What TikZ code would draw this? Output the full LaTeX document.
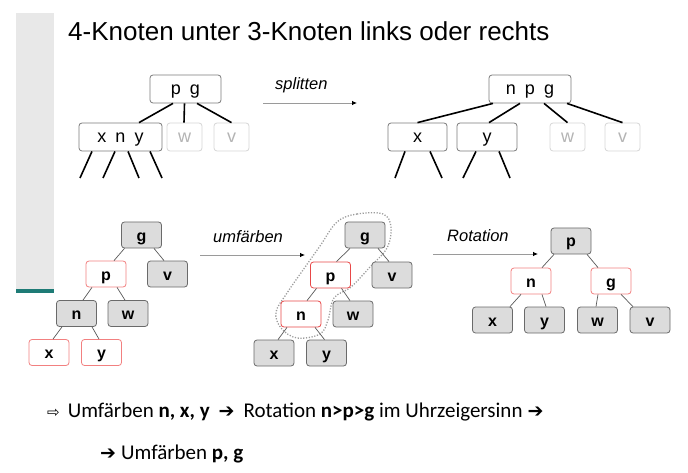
\documentclass[tikz,border=0pt]{standalone}
\usepackage{fontspec}
\setmainfont{Liberation Sans}
\newfontfamily\calib{Carlito}
\newfontfamily\symf{DejaVu Sans}
\usetikzlibrary{arrows.meta,calc}
\definecolor{barbg}{HTML}{E8E8E8}
\definecolor{tealbar}{HTML}{1E7B76}
\definecolor{nodegrey}{HTML}{DCDCDC}
\definecolor{nodeedge}{HTML}{6A6A6A}
\definecolor{softred}{HTML}{F28080}
\definecolor{brightred}{HTML}{E84848}
\definecolor{lightedge}{HTML}{D6D6D6}
\definecolor{lighttext}{HTML}{B4B4B4}
\definecolor{arrowgrey}{HTML}{9A9A9A}
\definecolor{loopgrey}{HTML}{9C9C9C}
\definecolor{boxedge}{HTML}{7A7A7A}
\begin{document}
\begin{tikzpicture}[x=1pt,y=-1pt,
 btree/.style={draw=boxedge, rounded corners=3pt, line width=0.8pt, fill=white, inner sep=0pt, minimum height=28pt, text height=14pt, text depth=3.5pt, font=\fontsize{18}{20}\selectfont},
 btreelight/.style={btree, draw=lightedge, text=lighttext},
 bedge/.style={line width=1.6pt, black},
 rb/.style={rounded corners=3pt, line width=0.8pt, inner sep=0pt, minimum width=40pt, minimum height=26pt, text height=15pt, text depth=3pt, font=\fontsize{16}{18}\selectfont\bfseries},
 blk/.style={rb, fill=nodegrey, draw=nodeedge},
 rednode/.style={rb, fill=white, draw=softred},
 rednodeb/.style={rb, fill=white, draw=brightred},
 redge/.style={line width=0.7pt, draw=black!65},
 steparrow/.style={draw=arrowgrey, line width=0.8pt, -{Latex[length=5pt,width=4.5pt,color=black]}},
 steplabel/.style={anchor=base west, inner sep=0pt, font=\fontsize{16.5}{18}\selectfont\itshape},
 bottomtext/.style={anchor=base west, inner sep=0pt, font=\calib\fontsize{21}{23}\selectfont},
]
\useasboundingbox (0,0) rectangle (688,473);
% side bar
\fill[barbg] (16,13) rectangle (54,289);
\fill[tealbar] (16,289) rectangle (54,293);
% title
\node[anchor=base west, inner sep=0pt, font=\fontsize{26}{28}\selectfont] (title) at (68,41) {4-Knoten unter 3-Knoten links oder rechts};

% ---------- top left B-tree ----------
\node[btree, minimum width=71pt] (pg) at (185.5,89) {p\hspace{0.5em}g};
\node[btree, minimum width=83pt] (xny) at (120.5,137) {x\hspace{0.5em}n\hspace{0.5em}y};
\node[btreelight, minimum width=35pt] (w1) at (184.5,137) {w};
\node[btreelight, minimum width=35pt] (v1) at (231.5,137) {v};
\draw[bedge] ([xshift=-12.5pt]pg.south) -- ([xshift=18.5pt]xny.north);
\draw[bedge] ([xshift=-1pt]pg.south) -- ([xshift=-0.5pt]w1.north);
\draw[bedge] ([xshift=11.5pt]pg.south) -- (v1.north);
\coordinate (d1) at (80,178);
\coordinate (d2) at (103,178);
\coordinate (d3) at (139,178);
\coordinate (d4) at (162,178);
\draw[bedge] ([xshift=-28.5pt]xny.south) -- (d1);
\draw[bedge] ([xshift=-5.5pt]xny.south) -- (d2);
\draw[bedge] ([xshift=7.5pt]xny.south) -- (d3);
\draw[bedge] ([xshift=29.5pt]xny.south) -- (d4);

% splitten arrow
\coordinate (s1) at (263,103);
\coordinate (s2) at (357,103);
\draw[steparrow] (s1) -- (s2);
\node[steplabel] (splab) at (275,90) {splitten};

% ---------- top right B-tree ----------
\node[btree, minimum width=82pt] (npg) at (530,89) {n\hspace{0.5em}p\hspace{0.5em}g};
\node[btree, minimum width=59pt] (x2) at (417.5,137) {x};
\node[btree, minimum width=60pt] (y2) at (487,137) {y};
\node[btreelight, minimum width=35pt] (w2) at (567.5,137) {w};
\node[btreelight, minimum width=35pt] (v2) at (622.5,137) {v};
\draw[bedge] ([xshift=-37pt]npg.south) -- (x2.north);
\draw[bedge] ([xshift=-10pt]npg.south) -- ([xshift=2pt]y2.north);
\draw[bedge] ([xshift=14pt]npg.south) -- (w2.north);
\draw[bedge] ([xshift=37pt]npg.south) -- (v2.north);
\coordinate (e1) at (395,178);
\coordinate (e2) at (442,178);
\coordinate (e3) at (463,178);
\coordinate (e4) at (510,178);
\draw[bedge] ([xshift=-12.5pt]x2.south) -- (e1);
\draw[bedge] ([xshift=12.5pt]x2.south) -- (e2);
\draw[bedge] ([xshift=-11pt]y2.south) -- (e3);
\draw[bedge] ([xshift=12pt]y2.south) -- (e4);

% ---------- red-black tree A ----------
\node[blk] (gA) at (141.5,235) {g};
\node[rednode] (pA) at (106,274) {p};
\node[blk] (vA) at (167.5,274) {v};
\node[blk] (nA) at (76.5,313.5) {n};
\node[blk] (wA) at (128,313.5) {w};
\node[rednode] (xA) at (49,352.5) {x};
\node[rednode] (yA) at (101.5,352.5) {y};
\draw[redge] ([xshift=-17pt]gA.south) -- ([xshift=8pt]pA.north);
\draw[redge] ([xshift=12.5pt]gA.south) -- ([xshift=-3.5pt]vA.north);
\draw[redge] ([xshift=-14pt]pA.south) -- ([xshift=6.5pt]nA.north);
\draw[redge] ([xshift=11pt]pA.south) -- ([xshift=-3pt]wA.north);
\draw[redge] ([xshift=-14.5pt]nA.south) -- ([xshift=4pt]xA.north);
\draw[redge] ([xshift=15.5pt]nA.south) -- ([xshift=-2.5pt]yA.north);

% umfaerben arrow
\coordinate (u1) at (200,255);
\coordinate (u2) at (305,255);
\draw[steparrow] (u1) -- (u2);
\node[steplabel] (umlab) at (213,243) {umfärben};

% ---------- red-black tree B ----------
\draw[loopgrey, line width=1.3pt, dash pattern=on 1.2pt off 1.6pt]
  plot[smooth cycle, tension=0.6] coordinates {
   (337,222) (357,214) (383,214) (391,227) (387,248) (370,267) (351,287)
   (334,298) (328,320) (320,334) (297,338) (281,328) (276,312) (287,293)
   (303,270) (320,246)};
\node[blk] (gB) at (365,235) {g};
\node[rednodeb] (pB) at (330.5,275) {p};
\node[blk] (vB) at (392,275) {v};
\node[rednodeb] (nB) at (301,314) {n};
\node[blk] (wB) at (353,314) {w};
\node[blk] (xB) at (274,353) {x};
\node[blk] (yB) at (326.5,353) {y};
\draw[redge] ([xshift=-15pt]gB.south) -- ([xshift=6pt]pB.north);
\draw[redge] ([xshift=13pt]gB.south) -- ([xshift=-3pt]vB.north);
\draw[redge] ([xshift=-14pt]pB.south) -- ([xshift=6pt]nB.north);
\draw[redge] ([xshift=11pt]pB.south) -- ([xshift=-3pt]wB.north);
\draw[redge] ([xshift=-14pt]nB.south) -- ([xshift=4pt]xB.north);
\draw[redge] ([xshift=14pt]nB.south) -- ([xshift=-2pt]yB.north);

% Rotation arrow
\coordinate (r1) at (433,254);
\coordinate (r2) at (538,254);
\draw[steparrow] (r1) -- (r2);
\node[steplabel] (rotlab) at (447,242) {Rotation};

% ---------- red-black tree C ----------
\node[blk] (pC) at (571,241) {p};
\node[rednode] (nC) at (531,281) {n};
\node[rednode] (gC) at (611,281) {g};
\node[blk] (xC) at (492.5,320) {x};
\node[blk] (yC) at (544.5,320) {y};
\node[blk] (wC) at (597.5,320) {w};
\node[blk] (vC) at (650,320) {v};
\draw[redge] ([xshift=-17pt]pC.south) -- ([xshift=11pt]nC.north);
\draw[redge] ([xshift=16pt]pC.south) -- ([xshift=-13pt]gC.north);
\draw[redge] ([xshift=-10pt]nC.south) -- ([xshift=17.5pt]xC.north);
\draw[redge] ([xshift=11pt]nC.south) -- ([xshift=1.5pt]yC.north);
\draw[redge] ([xshift=-13pt]gC.south) -- ([xshift=-1.5pt]wC.north);
\draw[redge] ([xshift=10pt]gC.south) -- ([xshift=-17pt]vC.north);

% ---------- bottom text ----------
\node[bottomtext] (line1) at (47,417)
 {{\symf\fontsize{15}{16}\selectfont ⇨}\hspace{8pt}Umfärben \textbf{n, x, y}\hspace{9pt}{\symf\fontsize{19}{20}\selectfont ➔}\hspace{9pt}Rotation \textbf{n>p>g} im Uhrzeigersinn\hspace{5pt}{\symf\fontsize{19}{20}\selectfont ➔}};
\node[bottomtext] (line2) at (100,459)
 {{\symf\fontsize{19}{20}\selectfont ➔}\hspace{5pt}Umfärben \textbf{p, g}};
\end{tikzpicture}
\end{document}
